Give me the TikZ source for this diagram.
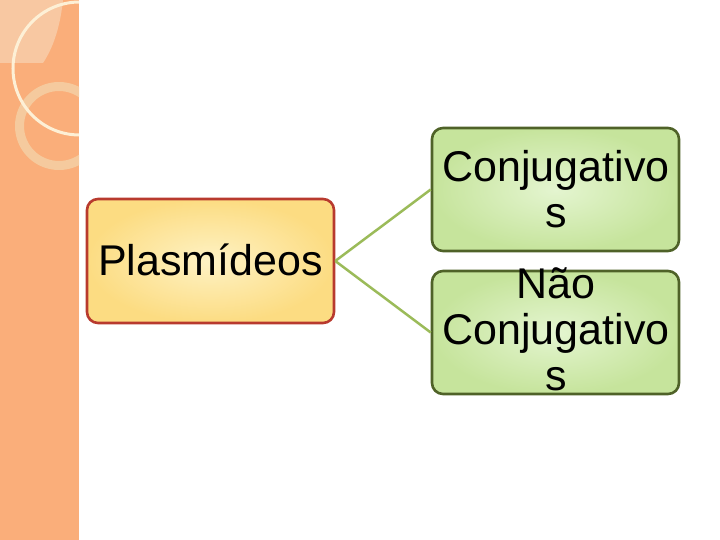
\documentclass[tikz,border=0pt]{standalone}
\usepackage{fontspec}
\setmainfont{Liberation Sans}
\definecolor{band}{RGB}{250,174,122}
\definecolor{bandlight}{RGB}{248,200,162}
\definecolor{cream}{RGB}{253,240,214}
\definecolor{ringc}{RGB}{245,206,162}
\definecolor{redb}{RGB}{184,58,46}
\definecolor{yelin}{RGB}{254,242,196}
\definecolor{yelout}{RGB}{252,220,130}
\definecolor{greenb}{RGB}{79,98,40}
\definecolor{grin}{RGB}{228,245,208}
\definecolor{grout}{RGB}{198,228,156}
\definecolor{conn}{RGB}{155,187,89}
\tikzset{
  box/.style={draw, line width=2.6pt, rounded corners=11pt, minimum width=247pt, inner sep=0pt},
  redbox/.style={box, draw=redb, minimum height=124pt, shade, inner color=yelin, outer color=yelout},
  greenbox/.style={box, draw=greenb, minimum height=123pt, shade, inner color=grin, outer color=grout},
  lbl/.style={font=\fontsize{43}{46}\selectfont, inner sep=0pt, align=center, anchor=base},
  conline/.style={draw=conn, line width=2.5pt}
}
\begin{document}
\begin{tikzpicture}[x=1pt,y=-1pt]
\useasboundingbox (0,0) rectangle (720,540);
% left decorative band
\fill[band] (0,0) rectangle (79,540);
\begin{scope}
\clip (0,0) rectangle (79,540);
\fill[bandlight] (0,0) -- (63,0) .. controls (60,28) and (53,48) .. (43,63) -- (0,63) -- cycle;
\draw[ringc, line width=9pt, opacity=0.9] (59,126) circle[radius=39.5];
\draw[cream, line width=3pt] (79.5,68.5) circle[radius=66.5];
\end{scope}
% boxes
\node[redbox] (p) at (210.5,261) {};
\node[greenbox] (c) at (555.5,189.5) {};
\node[greenbox] (n) at (555.5,332.5) {};
% connectors
\draw[conline] (p.east) -- (c.west);
\draw[conline] (p.east) -- (n.west);
% texts (anchored at the baseline of the last line)
\node[lbl] (pt) at (210.5,275) {Plasmídeos};
\node[lbl] (ct) at (556,227) {Conjugativo\\s};
\node[lbl] (nt) at (556,390) {Não\\Conjugativo\\s};
\end{tikzpicture}
\end{document}
